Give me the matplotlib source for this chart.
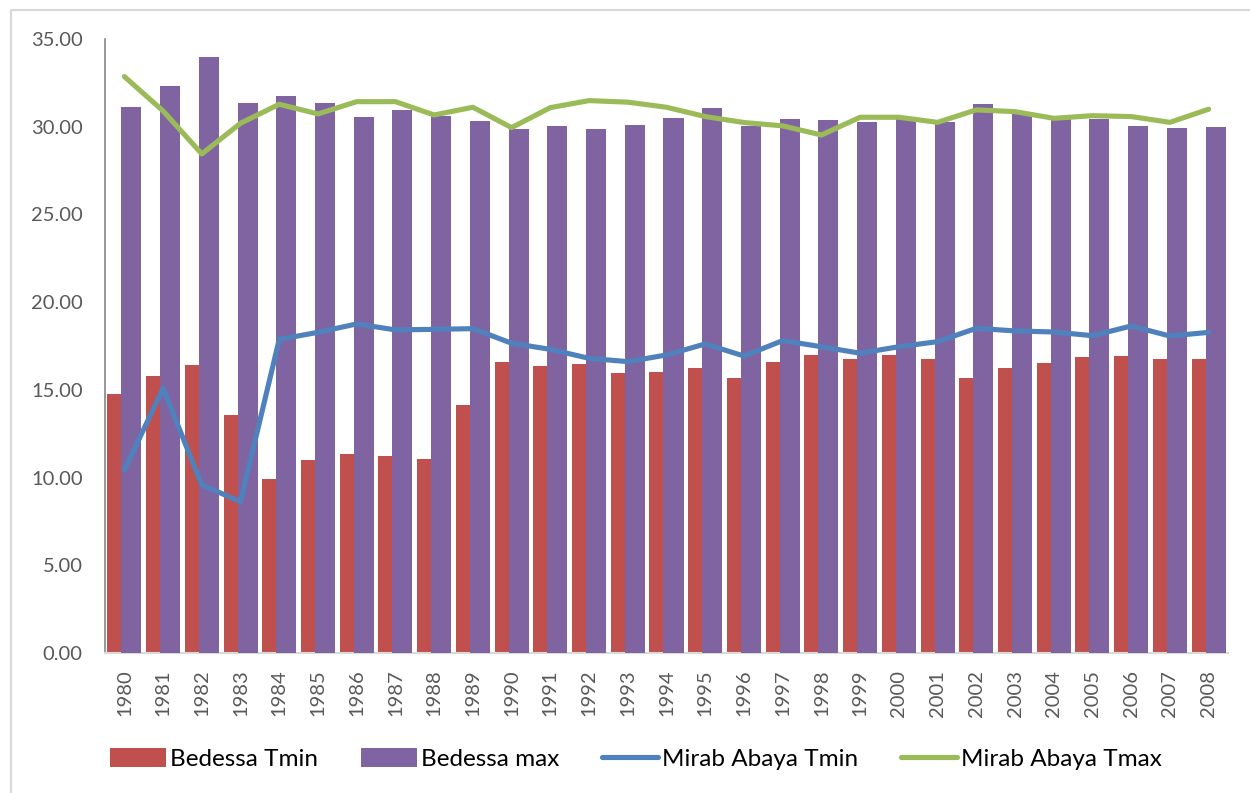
import matplotlib.pyplot as plt
import numpy as np
from matplotlib.lines import Line2D
from matplotlib.patches import Patch

plt.rcParams['font.family'] = ['Lato', 'DejaVu Sans']

# Data
years = ['1980', '1981', '1982', '1983', '1984', '1985', '1986', '1987', '1988', '1989',
         '1990', '1991', '1992', '1993', '1994', '1995', '1996', '1997', '1998', '1999',
         '2000', '2001', '2002', '2003', '2004', '2005', '2006', '2007', '2008']
bedessa_tmin = [14.77, 15.79, 16.44, 13.55, 9.92, 11.02, 11.36, 11.25, 11.06, 14.16,
                16.57, 16.38, 16.48, 15.96, 16.00, 16.23, 15.70, 16.61, 17.01, 16.74,
                17.01, 16.76, 15.70, 16.27, 16.52, 16.86, 16.91, 16.76, 16.76]
bedessa_max = [31.15, 32.35, 33.96, 31.38, 31.76, 31.34, 30.54, 30.98, 30.60, 30.33,
               29.87, 30.06, 29.87, 30.08, 30.50, 31.09, 30.06, 30.43, 30.37, 30.25,
               30.58, 30.29, 31.28, 30.85, 30.48, 30.44, 30.06, 29.95, 30.00]
mirab_tmin = [10.43, 15.09, 9.58, 8.63, 17.88, 18.28, 18.76, 18.42, 18.45, 18.49,
              17.66, 17.31, 16.80, 16.61, 16.99, 17.62, 16.93, 17.81, 17.46, 17.09,
              17.46, 17.75, 18.51, 18.36, 18.30, 18.09, 18.64, 18.07, 18.28]
mirab_tmax = [32.86, 30.90, 28.45, 30.20, 31.28, 30.73, 31.43, 31.43, 30.67, 31.11,
              29.95, 31.09, 31.49, 31.40, 31.11, 30.58, 30.24, 30.05, 29.53, 30.54,
              30.54, 30.25, 30.96, 30.86, 30.48, 30.63, 30.58, 30.25, 31.00]

red = '#C0504D'
purple = '#8064A2'
blue = '#4F81BD'
green = '#9BBB59'
grey_text = '#595959'

fig = plt.figure(figsize=(12.5, 7.93), dpi=100)
ax = fig.add_axes([0.084, 0.1765, 0.8984, 0.7743])

x = np.arange(len(years))
w = 0.517
ax.bar(x - 0.181, bedessa_tmin, width=w, color=red, edgecolor='none', zorder=2)
ax.bar(x + 0.181, bedessa_max, width=w, color=purple, edgecolor='none', zorder=3)
ax.plot(x, mirab_tmin, color=blue, lw=3.7, solid_capstyle='round',
        solid_joinstyle='round', zorder=4)
ax.plot(x, mirab_tmax, color=green, lw=3.7, solid_capstyle='round',
        solid_joinstyle='round', zorder=5)

ax.set_xlim(-0.5, len(years) - 0.5)
ax.set_ylim(0, 35)
ax.set_yticks(np.arange(0, 35.01, 5))
ax.set_yticklabels(['%.2f' % v for v in np.arange(0, 35.01, 5)])
ax.set_xticks(x)
ax.set_xticklabels(years, rotation=90)
ax.tick_params(axis='y', length=0, pad=16, labelsize=14.5, labelcolor=grey_text)
ax.tick_params(axis='x', length=0, pad=12, labelsize=14.5, labelcolor=grey_text)

for side in ['top', 'right']:
    ax.spines[side].set_visible(False)
ax.spines['left'].set_color('#868686')
ax.spines['left'].set_linewidth(1.2)
ax.spines['bottom'].set_color('#D9D9D9')
ax.spines['bottom'].set_linewidth(1.5)

# Legend
handles = [Patch(facecolor=red, edgecolor='none'),
           Patch(facecolor=purple, edgecolor='none'),
           Line2D([], [], color=blue, lw=3.7, solid_capstyle='round'),
           Line2D([], [], color=green, lw=3.7, solid_capstyle='round')]
labels = ['Bedessa Tmin', 'Bedessa max', 'Mirab Abaya Tmin', 'Mirab Abaya Tmax']
fig.legend(handles, labels, loc='center', bbox_to_anchor=(636 / 1250, 1 - 759 / 793),
           ncol=4, frameon=False, fontsize=17.5, handlelength=2.3, handleheight=0.85,
           handletextpad=0.17, columnspacing=1.75, labelcolor='black')

# Chart area border (top and left edges visible)
fig.add_artist(Line2D([11 / 1250, 11 / 1250, 1.0], [0.0, 1 - 10 / 793, 1 - 10 / 793],
                      transform=fig.transFigure, color='#D9D9D9', lw=1.5))

fig.savefig('out.png', dpi=100)
